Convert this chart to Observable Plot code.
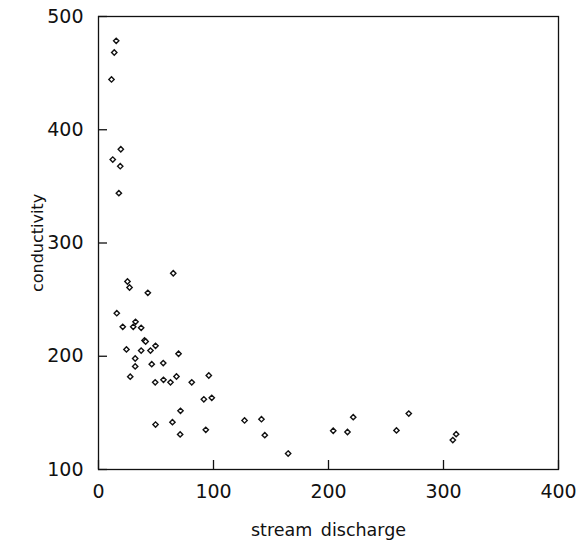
<!DOCTYPE html>
<html>
<head>
<meta charset="utf-8">
<script src="https://cdn.jsdelivr.net/npm/d3@7"></script>
<script src="https://cdn.jsdelivr.net/npm/@observablehq/plot@0.6"></script>
<style>
  html, body { margin: 0; padding: 0; background: #fff; }
  #chart svg { display: block; }
</style>
</head>
<body>
<div id="chart"></div>
<script>
// Stream discharge vs. conductivity samples
const discharge = [
  15.4, 13.7, 11.3, 19.4, 12.4, 18.9, 17.7, 65.0, 25.2, 27.0,
  42.9, 15.9, 32.2, 21.1, 30.2, 37.1, 40.0, 41.0, 24.3, 37.1,
  45.2, 49.6, 69.6, 31.9, 31.9, 46.3, 56.3, 27.6, 49.3, 56.5,
  62.6, 67.8, 81.1, 95.9, 91.6, 98.5, 71.3, 49.6, 64.3, 71.0,
  93.3, 127.0, 141.7, 144.6, 164.9, 204.1, 216.5, 221.5, 259.1, 269.8,
  308.1, 311.0
];
const conductivity = [
  478.5, 468.2, 444.4, 382.8, 373.7, 367.8, 344.0, 273.3, 266.0, 260.7,
  256.0, 238.0, 230.4, 226.0, 226.0, 225.1, 214.0, 213.0, 206.0, 205.0,
  205.0, 209.2, 202.2, 198.0, 191.0, 193.0, 194.0, 182.0, 177.0, 179.2,
  177.0, 182.1, 177.0, 183.0, 162.0, 163.3, 151.8, 139.7, 141.8, 131.0,
  135.0, 143.3, 144.4, 130.3, 114.1, 134.2, 133.1, 146.2, 134.5, 149.4,
  126.0, 131.2
];
const xTicks = [0, 100, 200, 300, 400];
const yTicks = [100, 200, 300, 400, 500];

const samples = discharge.map((q, i) => ({discharge: q, conductivity: conductivity[i]}));

const W = 582, H = 546;
const mL = 98, mR = 24, mT = 16, mB = 77;
const innerW = W - mL - mR, innerH = H - mT - mB;

const chart = Plot.plot({
  width: W,
  height: H,
  marginLeft: mL,
  marginRight: mR,
  marginTop: mT,
  marginBottom: mB,
  style: {fontFamily: "'DejaVu Sans', sans-serif", color: "#111", background: "#fff"},
  x: {domain: [0, 400]},
  y: {domain: [100, 500]},
  marks: [
    Plot.frame({stroke: "#111", strokeWidth: 1.3}),
    // inward tick marks
    Plot.tickX(xTicks, {x: d => d, insetTop: innerH - 9, stroke: "#111", strokeWidth: 1.3}),
    Plot.tickY(yTicks, {y: d => d, insetRight: innerW - 9, stroke: "#111", strokeWidth: 1.3}),
    Plot.axisX(xTicks, {
      tickSize: 0, tickPadding: 15, fontSize: 19, label: "stream discharge",
      labelAnchor: "center", labelArrow: "none", labelOffset: 66
    }),
    Plot.axisY(yTicks, {
      tickSize: 0, tickPadding: 15, fontSize: 19, label: "conductivity",
      labelAnchor: "center", labelArrow: "none", labelOffset: 67
    }),
    Plot.dot(samples, {
      x: "discharge", y: "conductivity", symbol: "diamond2", r: 2.4,
      stroke: "#111", strokeWidth: 1.4, fill: "#fff"
    })
  ]
});

// axis title sizes
chart.querySelectorAll("g[aria-label='x-axis label'] text")
  .forEach(t => { t.setAttribute("font-size", 17.5); t.setAttribute("word-spacing", 3); });
chart.querySelectorAll("g[aria-label='y-axis label'] text")
  .forEach(t => t.setAttribute("font-size", 16));
document.getElementById("chart").appendChild(chart);
</script>
</body>
</html>
